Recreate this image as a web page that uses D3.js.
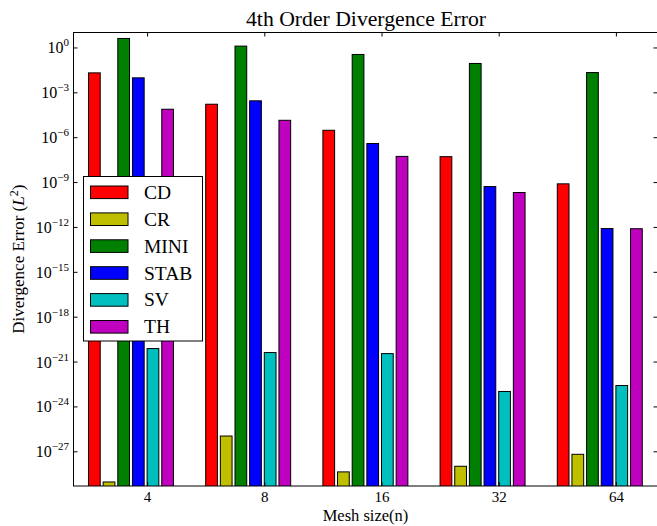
<!DOCTYPE html>
<html>
<head>
<meta charset="utf-8">
<script src="https://cdn.jsdelivr.net/npm/d3@7"></script>
<style>
  html, body { margin: 0; padding: 0; background: #fff; }
  svg { display: block; }
  text { font-family: "Liberation Serif", "Times New Roman", serif; fill: #000; }
</style>
</head>
<body>
<svg id="chart" width="657" height="526"></svg>
<script>
// ---- data ----
const meshSizes = ["4", "8", "16", "32", "64"];
const seriesNames = ["CD", "CR", "MINI", "STAB", "SV", "TH"];
const seriesColors = ["#ff0000", "#bfbf00", "#008000", "#0000ff", "#00bfbf", "#bf00bf"];
const CD   = [2.0e-2, 1.6e-4, 2.9e-6, 5.0e-8, 7.6e-10];
const CR   = [8.9e-30, 1.05e-26, 4.2e-29, 1.0e-28, 6.3e-28];
const MINI = [4.0, 1.23, 0.34, 8.5e-2, 2.1e-2];
const STAB = [9.3e-3, 2.7e-4, 3.8e-7, 5.0e-10, 7.8e-13];
const SV   = [7.4e-21, 4.0e-21, 3.4e-21, 1.0e-23, 2.5e-23];
const TH   = [7.4e-5, 1.35e-5, 5.2e-8, 2.0e-10, 7.6e-13];
const seriesValues = [CD, CR, MINI, STAB, SV, TH];
const yTickExps = [0, -3, -6, -9, -12, -15, -18, -21, -24, -27];

// ---- layout ----
const plot = { left: 73.5, right: 657.5, top: 32.5, bottom: 486 };
const barWidth = 0.1, barStep = 0.125, tickOffset = 0.5;

const svg = d3.select("#chart");

const x = d3.scaleLinear().domain([-0.128, 4.855]).range([plot.left, plot.right]);
const y = d3.scaleLog().domain([Math.pow(10, -29.32), Math.pow(10, 1.0)]).range([plot.bottom, plot.top]);

svg.append("defs").append("clipPath").attr("id", "clip")
  .append("rect")
  .attr("x", plot.left).attr("y", plot.top)
  .attr("width", plot.right - plot.left).attr("height", plot.bottom - plot.top);

// bars
const barsG = svg.append("g").attr("clip-path", "url(#clip)");
seriesValues.forEach((vals, k) => {
  barsG.selectAll(null)
    .data(vals.map((v, i) => ({ v, i })))
    .enter().append("rect")
    .attr("x", d => x(d.i + k * barStep))
    .attr("width", d => x(d.i + k * barStep + barWidth) - x(d.i + k * barStep))
    .attr("y", d => y(d.v))
    .attr("height", d => plot.bottom + 5 - y(d.v))
    .attr("fill", seriesColors[k])
    .attr("stroke", "#000")
    .attr("stroke-width", 1);
});

// frame
svg.append("rect")
  .attr("x", plot.left).attr("y", plot.top)
  .attr("width", plot.right - plot.left).attr("height", plot.bottom - plot.top)
  .attr("fill", "none").attr("stroke", "#000").attr("stroke-width", 1);

// y axis (left/right) - inward ticks
const yTicks = yTickExps.map(e => Math.pow(10, e));
const yAxisL = d3.axisLeft(y).tickValues(yTicks).tickSizeInner(-4).tickSizeOuter(0).tickFormat("");
const gyL = svg.append("g").attr("transform", `translate(${plot.left},0)`).call(yAxisL);
gyL.select(".domain").remove();
gyL.selectAll(".tick line").attr("stroke", "#000");

const yAxisR = d3.axisRight(y).tickValues(yTicks).tickSizeInner(-4).tickSizeOuter(0).tickFormat("");
const gyR = svg.append("g").attr("transform", `translate(${plot.right},0)`).call(yAxisR);
gyR.select(".domain").remove();
gyR.selectAll(".tick line").attr("stroke", "#000");

// y tick labels 10^e
const yLab = svg.append("g");
yTickExps.forEach(e => {
  const t = yLab.append("text")
    .attr("x", 69).attr("y", y(Math.pow(10, e)) + 6)
    .attr("text-anchor", "end")
    .attr("font-size", 16);
  t.append("tspan").text("10");
  t.append("tspan").attr("font-size", 11).attr("dy", -7)
    .text(e === 0 ? "0" : "\u2212" + Math.abs(e));
});

// x axis ticks (top and bottom, inward)
const xTickVals = meshSizes.map((m, i) => i + tickOffset);
const xAxisT = d3.axisTop(x).tickValues(xTickVals).tickSizeInner(-4).tickSizeOuter(0).tickFormat("");
const gxT = svg.append("g").attr("transform", `translate(0,${plot.top})`).call(xAxisT);
gxT.select(".domain").remove();
gxT.selectAll(".tick line").attr("stroke", "#000");

const xAxisB = d3.axisBottom(x).tickValues(xTickVals).tickSizeInner(-4).tickSizeOuter(0)
  .tickFormat((d, i) => meshSizes[i]);
const gxB = svg.append("g").attr("transform", `translate(0,${plot.bottom})`).call(xAxisB);
gxB.select(".domain").remove();
gxB.selectAll(".tick line").attr("stroke", "#000");
gxB.selectAll(".tick text")
  .attr("y", 15.5).attr("dy", 0)
  .attr("font-size", 15)
  .attr("font-family", "Liberation Serif, serif")
  .attr("fill", "#000");

// title
svg.append("text")
  .attr("x", (plot.left + plot.right) / 2 + 0.5).attr("y", 26)
  .attr("text-anchor", "middle").attr("font-size", 20.5)
  .attr("textLength", 240).attr("lengthAdjust", "spacingAndGlyphs")
  .text("4th Order Divergence Error");

// x label
svg.append("text")
  .attr("x", (plot.left + plot.right) / 2).attr("y", 520.5)
  .attr("text-anchor", "middle").attr("font-size", 16.5)
  .text("Mesh size(n)");

// y label
const yl = svg.append("text")
  .attr("transform", `translate(23.5,${(plot.top + plot.bottom) / 2}) rotate(-90)`)
  .attr("text-anchor", "middle").attr("font-size", 17);
yl.append("tspan").text("Divergence Error (");
yl.append("tspan").attr("font-style", "italic").text("L");
yl.append("tspan").attr("font-size", 12).attr("dy", -6).text("2");
yl.append("tspan").attr("dy", 6).text(")");

// legend
const leg = svg.append("g");
leg.append("rect")
  .attr("x", 83.5).attr("y", 176.5).attr("width", 119).attr("height", 164.5)
  .attr("fill", "#fff").attr("stroke", "#000").attr("stroke-width", 1);
seriesNames.forEach((name, k) => {
  const cy = 192.3 + k * 26.9;
  leg.append("rect")
    .attr("x", 90.5).attr("y", cy - 6.3).attr("width", 37.5).attr("height", 12.6)
    .attr("fill", seriesColors[k]).attr("stroke", "#000").attr("stroke-width", 1);
  leg.append("text")
    .attr("x", 144).attr("y", cy + 6.5)
    .attr("font-size", 19.5)
    .text(name);
});
</script>
</body>
</html>
